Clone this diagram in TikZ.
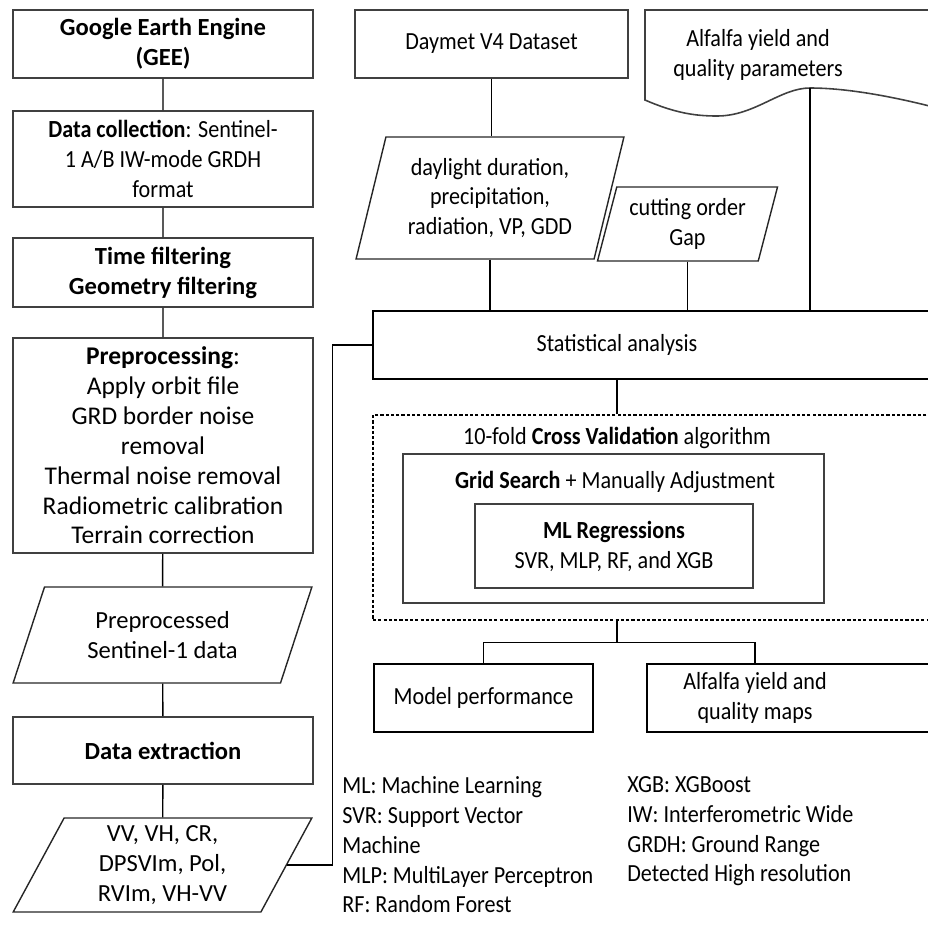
\documentclass[tikz,border=0pt]{standalone}
\usepackage{fontspec}
\setmainfont{Carlito}
\newfontfamily\rfont{Carlito}[FakeStretch=0.9]
\usepackage{tikz}
\usetikzlibrary{shapes,positioning,arrows}

\begin{document}
\begin{tikzpicture}[x=0.02cm,y=-0.02cm,font=\fontsize{14}{17}\selectfont]
        %
        % `box' is used for the process steps, `io' for data (parallelograms).
        % `link' is used for the plain connectors, `rtext' for the narrower text.
        \tikzstyle{box} = [draw=black!75,line width=0.9pt,align=center,inner sep=0pt]
        \tikzstyle{io} = [draw=black!85,line width=0.8pt,trapezium,trapezium left angle=67,trapezium right angle=113,trapezium stretches=true,align=center,inner sep=0pt]
        \tikzstyle{cvbox} = [draw,line width=0.7pt,dash pattern=on 1.8pt off 1.2pt,inner sep=0pt]
        \tikzstyle{link} = [draw,line width=0.8pt]
        \tikzstyle{rtext} = [font=\fontsize{14}{17}\rfont]
        \tikzstyle{legend} = [rtext,align=left,anchor=north west,inner sep=0pt]
        \clip (0,0) rectangle (928,924);
        %
        % Left column (GEE)
        \node[box,minimum width=6cm,minimum height=1.36cm] (gee) at (163,44) {\textbf{Google Earth Engine}\\\textbf{(GEE)}};
        \node[box,rtext,minimum width=6cm,minimum height=1.92cm] (dc) at (163,159) {\textbf{Data collection}: Sentinel-\\1 A/B IW-mode GRDH\\format};
        \node[box,minimum width=6cm,minimum height=1.38cm] (tf) at (163,272.5) {\textbf{Time filtering}\\\textbf{Geometry filtering}};
        \node[box,font=\fontsize{14.5}{17}\selectfont,minimum width=6cm,minimum height=4.3cm] (pre) at (163,445.5) {\textbf{Preprocessing}:\\Apply orbit file\\GRD border noise\\removal\\Thermal noise removal\\Radiometric calibration\\Terrain correction};
        \node[io,minimum width=5.98cm,minimum height=1.92cm] (ppd) at (162.5,635) {Preprocessed\\Sentinel-1 data};
        \node[box,minimum width=6cm,minimum height=1.34cm] (dex) at (163,750.5) {\textbf{Data extraction}};
        \node[io,minimum width=5.98cm,minimum height=1.88cm] (vv) at (162.5,865) {VV, VH, CR,\\DPSVIm, Pol,\\RVIm, VH-VV};
        %
        % Top right (weather and field data)
        \node[box,rtext,minimum width=5.46cm,minimum height=1.36cm] (daymet) at (491.5,44) {Daymet V4 Dataset};
        \node[io,rtext,trapezium left angle=73.6,trapezium right angle=106.4,minimum width=5.36cm,minimum height=2.44cm] (dl) at (490,198) {daylight duration,\\precipitation,\\radiation, VP, GDD};
        \node[io,rtext,trapezium left angle=72.7,trapezium right angle=107.3,minimum width=3.62cm,minimum height=1.48cm] (cut) at (687.5,224) {cutting order\\Gap};
        \draw[box] (945,10) -- (645,10) -- (645,100) .. controls (675,113) and (695,116) .. (717,116) .. controls (755,116) and (780,88) .. (810,88) .. controls (850,88) and (900,98) .. (945,110);
        \node[rtext,align=center] (doc) at (758,55) {Alfalfa yield and\\quality parameters};
        \coordinate (docb) at (810,88);
        %
        % Analysis
        \node[box,draw=black,minimum width=11.34cm,minimum height=1.36cm,label={[rtext,xshift=-0.79cm]center:Statistical analysis}] (stat) at (656.5,345) {};
        \node[cvbox,minimum width=11.34cm,minimum height=4.1cm] (cv) at (656.5,517.5) {};
        \node[rtext] (cvt) at (617,438) {10-fold \textbf{Cross Validation} algorithm};
        \node[box,minimum width=8.42cm,minimum height=2.98cm] (grid) at (613.5,528.5) {};
        \node[rtext] (gridt) at (615,482) {\textbf{Grid Search} + Manually Adjustment};
        \node[box,rtext,minimum width=5.56cm,minimum height=1.68cm] (ml) at (614,546) {\textbf{ML Regressions}\\SVR, MLP, RF, and XGB};
        %
        % Outputs
        \node[box,rtext,draw=black,minimum width=4.38cm,minimum height=1.36cm] (mp) at (483.5,698) {Model performance};
        \node[box,draw=black,minimum width=5.86cm,minimum height=1.36cm,label={[rtext,align=center,xshift=-0.77cm]center:Alfalfa yield and\\quality maps}] (maps) at (793.5,698) {};
        %
        % Abbreviations
        \node[legend] (legl) at (342,776) {ML: Machine Learning\\SVR: Support Vector\\Machine\\MLP: MultiLayer Perceptron\\RF: Random Forest};
        \node[legend] (legr) at (627,776) {XGB: XGBoost\\IW: Interferometric Wide\\GRDH: Ground Range\\Detected High resolution};
        %
        % Connectors
        \path[link] (gee) -- (dc) (dc) -- (tf) (tf) -- (pre) (pre) -- (ppd) (ppd) -- (dex) (dex) -- (vv);
        \draw[link] (vv.east) -| ([xshift=-0.8cm]stat.west) -- (stat.west);
        \draw[link] (daymet.south) -- (daymet.south |- dl.north);
        \draw[link] (dl.south) -- (dl.south |- stat.north);
        \draw[link] (cut.south) -- (cut.south |- stat.north);
        \draw[link] (docb) -- (docb |- stat.north);
        \draw[link] (stat.south -| cvt) -- (cv.north -| cvt);
        \draw[link] (cv.south -| cvt) -- ++(0,22) coordinate (split);
        \draw[link] (mp.north) |- (split) -| ([xshift=-0.77cm]maps.north);
        %
    \end{tikzpicture}
\end{document}
